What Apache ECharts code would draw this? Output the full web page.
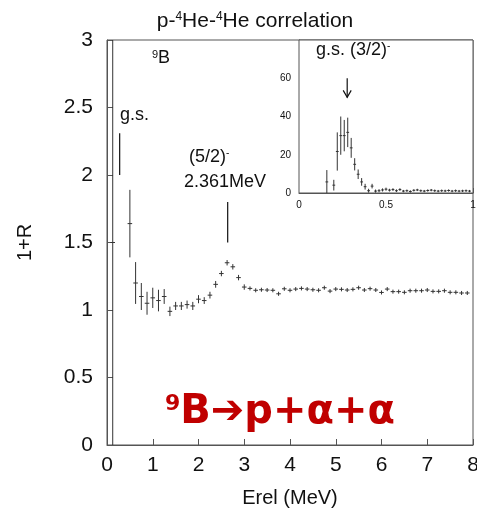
<!DOCTYPE html>
<html>
<head>
<meta charset="utf-8">
<script src="https://cdn.jsdelivr.net/npm/echarts@6.0.0/dist/echarts.min.js"></script>
<style>
  html, body { margin: 0; padding: 0; background: #fff; }
  #chart { width: 477px; height: 512px; }
</style>
</head>
<body>
<div id="chart"></div>
<script>
// main correlation function, 1+R vs Erel (MeV)
var mainE = [0.125, 0.5, 0.625, 0.75, 0.875, 1.0, 1.125, 1.25, 1.375, 1.5, 1.625, 1.75, 1.875,
  2.0, 2.125, 2.25, 2.375, 2.5, 2.625, 2.75, 2.875, 3.0, 3.125, 3.25, 3.375, 3.5, 3.625, 3.75, 3.875,
  4.0, 4.125, 4.25, 4.375, 4.5, 4.625, 4.75, 4.875, 5.0, 5.125, 5.25, 5.375, 5.5, 5.625, 5.75, 5.875,
  6.0, 6.125, 6.25, 6.375, 6.5, 6.625, 6.75, 6.875, 7.0, 7.125, 7.25, 7.375, 7.5, 7.625, 7.75, 7.875];
var mainV = [1.5, 1.64, 1.20, 1.10, 1.05, 1.09, 1.07, 1.10, 0.99, 1.03, 1.03, 1.04, 1.03,
  1.08, 1.07, 1.11, 1.19, 1.27, 1.35, 1.32, 1.24, 1.17, 1.16, 1.146, 1.15, 1.148, 1.146, 1.12, 1.157,
  1.146, 1.155, 1.16, 1.155, 1.15, 1.146, 1.165, 1.14, 1.155, 1.153, 1.148, 1.153, 1.165, 1.148, 1.158, 1.148,
  1.13, 1.155, 1.136, 1.136, 1.131, 1.143, 1.143, 1.143, 1.148, 1.138, 1.138, 1.143, 1.131, 1.131, 1.126, 1.126];
var mainErr = [1.6, 0.25, 0.155, 0.10, 0.085, 0.075, 0.08, 0.055, 0.035, 0.03, 0.03, 0.03, 0.03,
  0.03, 0.025, 0.025, 0.025, 0.02, 0.02, 0.02, 0.02, 0.02, 0.015, 0.015, 0.015, 0.015, 0.015, 0.015, 0.015,
  0.015, 0.015, 0.015, 0.015, 0.015, 0.015, 0.015, 0.015, 0.015, 0.015, 0.015, 0.015, 0.015, 0.015, 0.015, 0.015,
  0.015, 0.015, 0.015, 0.015, 0.015, 0.015, 0.015, 0.015, 0.015, 0.015, 0.015, 0.015, 0.015, 0.015, 0.015, 0.015];

// level markers (g.s. and 5/2-)
var levelE = [0.277, 2.638];
var levelLo = [2.0, 1.5];
var levelHi = [2.31, 1.8];

// inset: counts vs Erel, low energy
var insetE = [0.16, 0.20, 0.22, 0.24, 0.26, 0.28, 0.30, 0.32, 0.34, 0.36, 0.38, 0.40, 0.42, 0.44,
  0.46, 0.48, 0.50, 0.52, 0.54, 0.56, 0.58, 0.60, 0.62, 0.64, 0.66, 0.68, 0.70, 0.72, 0.74, 0.76,
  0.78, 0.80, 0.82, 0.84, 0.86, 0.88, 0.90, 0.92, 0.94, 0.96, 0.98];
var insetV = [5.8, 4.1, 21.7, 30, 30, 31.7, 23.6, 15, 9.8, 5.8, 3.3, 1.2, 3.6, 1.0,
  1.2, 1.6, 2.0, 1.5, 1.8, 1.2, 1.8, 1.0, 1.2, 0.8, 1.4, 1.6, 1.2, 1.0, 1.3, 1.5,
  1.2, 1.0, 1.2, 1.1, 1.3, 1.0, 1.2, 1.0, 1.1, 1.2, 1.0];
var insetErr = [6.2, 2.8, 10, 10, 8.2, 7.7, 5.2, 3.2, 2.5, 2.0, 1.5, 1.0, 1.2, 0.8,
  0.8, 0.8, 0.8, 0.7, 0.7, 0.7, 0.7, 0.6, 0.6, 0.6, 0.6, 0.6, 0.6, 0.6, 0.6, 0.6,
  0.6, 0.6, 0.6, 0.6, 0.6, 0.6, 0.6, 0.6, 0.6, 0.6, 0.6];
var insetArrow = [0.277, 60, 50];

var insetYLabels = [0, 20, 40, 60];
var insetXLabels = [0, 0.5, 1];

var FONT = '"Liberation Sans", Arial, sans-serif';
var INK = '#333';

function crosses(halfW, yLo, yHi) {
  return function (params, api) {
    var e = api.value(0), v = api.value(1), er = api.value(2);
    var lo = Math.max(v - er, yLo), hi = Math.min(v + er, yHi);
    var p1 = api.coord([e, lo]), p2 = api.coord([e, hi]);
    var kids = [{
      type: 'line',
      shape: { x1: p1[0], y1: p1[1], x2: p2[0], y2: p2[1] },
      style: { stroke: INK, lineWidth: 1 }
    }];
    if (v >= yLo && v <= yHi) {
      var l = api.coord([e - halfW, v]), r = api.coord([e + halfW, v]);
      kids.push({
        type: 'line',
        shape: { x1: l[0], y1: l[1], x2: r[0], y2: r[1] },
        style: { stroke: INK, lineWidth: 1 }
      });
    }
    return { type: 'group', children: kids };
  };
}

var chart = echarts.init(document.getElementById('chart'));

chart.setOption({
  animation: false,
  backgroundColor: '#fff',
  grid: [
    { left: 107, top: 40, right: 4, bottom: 67, outerBoundsMode: 'none', show: true, borderColor: '#555', borderWidth: 1, backgroundColor: 'transparent' },
    { left: 299, top: 40, right: 4, bottom: 319, outerBoundsMode: 'none', show: true, borderColor: '#555', borderWidth: 1, backgroundColor: '#fff', z: 5 }
  ],
  xAxis: [
    {
      gridIndex: 0, type: 'value', min: 0, max: 8, interval: 1,
      name: 'Erel (MeV)', nameLocation: 'middle', nameGap: 43,
      nameTextStyle: { fontFamily: FONT, fontSize: 20, color: '#111' },
      axisLine: { lineStyle: { color: '#555' } },
      axisTick: { inside: true, length: 6, lineStyle: { color: '#555' } },
      axisLabel: { fontFamily: FONT, fontSize: 21, color: '#111', margin: 10 },
      splitLine: { show: false }
    },
    {
      gridIndex: 1, type: 'value', min: 0, max: 1, interval: 0.5,
      axisLine: { lineStyle: { color: '#555' } },
      axisTick: { inside: true, length: 5, lineStyle: { color: '#555' } },
      minorTick: { show: true, splitNumber: 10, length: 3, lineStyle: { color: '#555' } },
      axisLabel: {
        fontFamily: FONT, fontSize: 10, color: '#111', margin: 7,
        formatter: function (v) { return insetXLabels.indexOf(v) >= 0 ? String(v) : ''; }
      },
      splitLine: { show: false }, minorSplitLine: { show: false }
    }
  ],
  yAxis: [
    {
      gridIndex: 0, type: 'value', min: 0, max: 3, interval: 0.5,
      name: '1+R', nameLocation: 'middle', nameRotate: 90, nameGap: 72,
      nameTextStyle: { fontFamily: FONT, fontSize: 20, color: '#111' },
      axisLine: { show: true, lineStyle: { color: '#555' } },
      axisTick: { show: true, inside: true, length: 6, lineStyle: { color: '#555' } },
      axisLabel: { fontFamily: FONT, fontSize: 21, color: '#111', margin: 14 },
      splitLine: { show: false }
    },
    {
      gridIndex: 1, type: 'value', min: 0, max: 80, interval: 20,
      axisLine: { show: true, lineStyle: { color: '#555' } },
      axisTick: { show: true, inside: true, length: 5, lineStyle: { color: '#555' } },
      minorTick: { show: true, splitNumber: 4, length: 3, lineStyle: { color: '#555' } },
      axisLabel: {
        fontFamily: FONT, fontSize: 10, color: '#111', margin: 8,
        formatter: function (v) { return insetYLabels.indexOf(v) >= 0 ? String(v) : ''; }
      },
      splitLine: { show: false }, minorSplitLine: { show: false }
    }
  ],
  series: [
    {
      type: 'custom', xAxisIndex: 0, yAxisIndex: 0,
      renderItem: crosses(0.05, 0, 3),
      data: mainE.map(function (e, i) { return [e, mainV[i], mainErr[i]]; })
    },
    {
      type: 'custom', xAxisIndex: 0, yAxisIndex: 0,
      renderItem: function (params, api) {
        var a = api.coord([api.value(0), api.value(1)]);
        var b = api.coord([api.value(0), api.value(2)]);
        return { type: 'line', shape: { x1: a[0], y1: a[1], x2: b[0], y2: b[1] }, style: { stroke: '#111', lineWidth: 1.2 } };
      },
      data: levelE.map(function (e, i) { return [e, levelLo[i], levelHi[i]]; })
    },
    {
      type: 'custom', xAxisIndex: 1, yAxisIndex: 1, z: 6,
      renderItem: crosses(0.008, 0, 80),
      data: insetE.map(function (e, i) { return [e, insetV[i], insetErr[i]]; })
    },
    {
      type: 'custom', xAxisIndex: 1, yAxisIndex: 1, z: 6,
      renderItem: function (params, api) {
        var a = api.coord([api.value(0), api.value(1)]);
        var b = api.coord([api.value(0), api.value(2)]);
        return {
          type: 'group', children: [
            { type: 'line', shape: { x1: a[0], y1: a[1], x2: b[0], y2: b[1] }, style: { stroke: '#111', lineWidth: 1.2 } },
            { type: 'polyline', shape: { points: [[b[0] - 4, b[1] - 7], [b[0], b[1]], [b[0] + 4, b[1] - 7]] }, style: { stroke: '#111', fill: null, lineWidth: 1.2 } }
          ]
        };
      },
      data: [insetArrow]
    }
  ],
  graphic: [
    {
      type: 'text', x: 255, y: 21, z: 10,
      style: {
        text: 'p-{s|4}He-{s|4}He correlation', align: 'center', verticalAlign: 'middle',
        font: '21px ' + FONT, fill: '#111',
        rich: {
          s: { fontSize: 12, fontFamily: FONT, verticalAlign: 'top', lineHeight: 12, fill: '#111' }
        }
      }
    },
    {
      type: 'text', x: 152, y: 58, z: 10,
      style: {
        text: '{s|9}B', verticalAlign: 'middle', font: '18px ' + FONT, fill: '#111',
        rich: { s: { fontSize: 11, fontFamily: FONT, verticalAlign: 'top', lineHeight: 11, fill: '#111' } }
      }
    },
    {
      type: 'text', x: 120, y: 115, z: 10,
      style: { text: 'g.s.', verticalAlign: 'middle', font: '18px ' + FONT, fill: '#111' }
    },
    {
      type: 'text', x: 189, y: 157, z: 10,
      style: {
        text: '(5/2){s|-}', verticalAlign: 'middle', font: '18px ' + FONT, fill: '#111',
        rich: { s: { fontSize: 10, fontFamily: FONT, verticalAlign: 'top', lineHeight: 10, fill: '#111' } }
      }
    },
    {
      type: 'text', x: 184, y: 182, z: 10,
      style: { text: '2.361MeV', verticalAlign: 'middle', font: '18px ' + FONT, fill: '#111' }
    },
    {
      type: 'text', x: 316, y: 50, z: 10,
      style: {
        text: 'g.s. (3/2){s|-}', verticalAlign: 'middle', font: '18px ' + FONT, fill: '#111',
        rich: { s: { fontSize: 10, fontFamily: FONT, verticalAlign: 'top', lineHeight: 10, fill: '#111' } }
      }
    },
    {
      type: 'text', x: 165, y: 413, z: 10,
      style: {
        text: '{s|9}B\u2794p+\u03b1+\u03b1', verticalAlign: 'middle',
        font: 'bold 40px "DejaVu Sans", sans-serif', fill: '#c00000',
        rich: { s: { fontSize: 22, fontWeight: 'bold', fontFamily: '"DejaVu Sans", sans-serif', verticalAlign: 'top', lineHeight: 22, fill: '#c00000' } }
      }
    }
  ]
});
</script>
</body>
</html>
